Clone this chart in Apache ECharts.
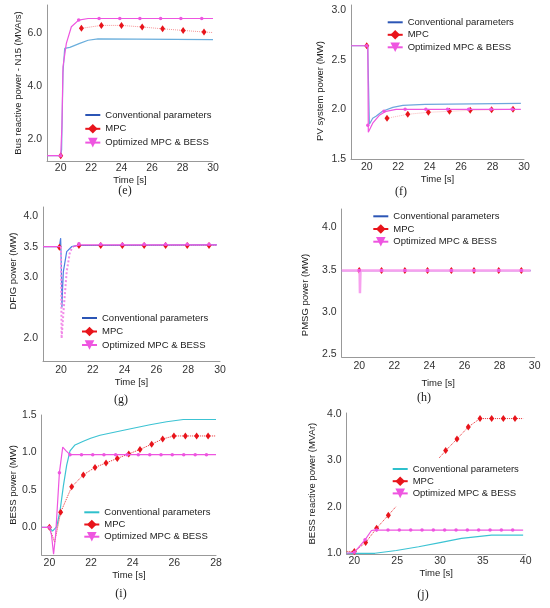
<!DOCTYPE html>
<html>
<head>
<meta charset="utf-8">
<script src="https://cdn.jsdelivr.net/npm/echarts@6/dist/echarts.min.js"></script>
<style>
html, body { margin: 0; padding: 0; background: #fff; }
#chart { width: 550px; height: 608px; }
</style>
</head>
<body>
<div id="chart"></div>
<script>
var CONV = 'Conventional parameters';
var MPC = 'MPC';
var OPT = 'Optimized MPC & BESS';

// (e) Bus reactive power - N15
var convE = [[19.1,1.37],[20.0,1.37],[20.06,1.6],[20.15,4.5],[20.26,5.42],[20.6,5.46],[21.25,5.61],[21.8,5.73],[22.45,5.78],[25.0,5.77],[30.0,5.75]];
var mpcLineE = [[20.0,1.37],[20.05,'-'],[21.36,6.18],[22.67,6.29],[23.99,6.29],[25.35,6.23],[26.69,6.16],[28.04,6.1],[29.41,6.04],[30.0,6.02]];
var mpcMarksE = [[20.0,1.37],[21.36,6.18],[22.67,6.29],[23.99,6.29],[25.35,6.23],[26.69,6.16],[28.04,6.1],[29.41,6.04]];
var optE = [[19.1,1.37],[20.0,1.37],[20.08,2.5],[20.15,4.73],[20.37,5.61],[20.7,6.24],[21.18,6.49],[21.8,6.55],[30.0,6.55]];
var optMarksE = [[20.0,1.37],[21.18,6.49],[22.52,6.55],[23.88,6.55],[25.2,6.55],[26.56,6.55],[27.89,6.55],[29.26,6.55]];

// (f) PV system power
var convF = [[19.0,2.64],[20.06,2.64],[20.17,1.85],[20.38,1.91],[20.59,1.93],[21.0,1.98],[21.66,2.02],[22.3,2.04],[23.7,2.05],[29.8,2.06]];
var mpcLineF = [[20.0,2.64],[20.05,'-'],[21.29,1.91],[22.61,1.95],[23.92,1.97],[25.26,1.98],[26.58,1.99],[27.94,1.995],[29.3,2.0]];
var mpcMarksF = [[20.0,2.64],[21.29,1.91],[22.61,1.95],[23.92,1.97],[25.26,1.98],[26.58,1.99],[27.94,1.995],[29.3,2.0]];
var optF = [[19.0,2.64],[20.07,2.64],[20.1,1.77],[20.38,1.86],[20.8,1.94],[21.23,1.98],[21.87,2.0],[29.8,2.0]];
var optMarksF = [[20.0,2.64],[20.07,1.84],[21.1,1.98],[22.44,2.0],[23.76,2.0],[25.14,2.0],[26.48,2.0],[27.9,2.0],[29.25,2.0]];

// (g) DFIG power
var convG = [[18.87,3.5],[19.9,3.5],[19.98,3.64],[20.02,3.2],[20.06,2.5],[20.1,2.8],[20.15,3.09],[20.36,3.42],[20.67,3.5],[21.0,3.52],[29.8,3.53]];
var mpcLineG = [[19.9,3.49],[20.0,'-'],[21.13,3.52],[22.5,3.52],[23.86,3.52],[25.23,3.52],[26.58,3.52],[27.94,3.52],[29.31,3.52],[29.8,3.52]];
var mpcMarksG = [[19.9,3.49],[21.13,3.52],[22.5,3.52],[23.86,3.52],[25.23,3.52],[26.58,3.52],[27.94,3.52],[29.31,3.52]];
var optG = [[18.87,3.5],[20.0,3.5],[20.4,'-'],[20.77,3.5],[21.2,3.53],[29.8,3.53]];
var optDipG = [[20.0,3.5],[20.04,1.99],[20.15,2.4],[20.36,3.09],[20.57,3.42],[20.77,3.5]];
var optMarksG = [[21.13,3.55],[22.5,3.54],[23.86,3.54],[25.23,3.54],[26.58,3.54],[27.94,3.54],[29.31,3.54]];

// (h) PMSG power
var convH = [[19.0,3.49],[29.77,3.49]];
var mpcLineH = [[20.0,3.49],[21.27,3.49],[22.6,3.49],[23.89,3.49],[25.25,3.49],[26.54,3.49],[27.95,3.49],[29.24,3.49]];
var mpcMarksH = [[20.0,3.49],[21.27,3.49],[22.6,3.49],[23.89,3.49],[25.25,3.49],[26.54,3.49],[27.95,3.49],[29.24,3.49]];
var optH = [[19.0,3.49],[20.02,3.49],[20.04,3.22],[20.07,3.49],[29.77,3.49]];
var optMarksH = [[20.0,3.49],[21.27,3.49],[22.6,3.49],[23.89,3.49],[25.25,3.49],[26.54,3.49],[27.95,3.49],[29.24,3.49]];

// (i) BESS power
var convI = [[19.63,0],[20.0,0],[20.15,-0.05],[20.35,0.01],[20.51,0.22],[20.67,0.55],[20.83,0.83],[20.99,1.02],[21.23,1.1],[21.63,1.15],[21.98,1.19],[22.43,1.23],[23.79,1.31],[24.83,1.37],[25.63,1.41],[26.43,1.44],[28.0,1.44]];
var mpcLineI = [[20.0,0],[20.25,-0.2],[20.54,0.2],[21.07,0.54],[21.63,0.7],[22.19,0.8],[22.72,0.86],[23.26,0.92],[23.81,0.98],[24.35,1.04],[24.91,1.11],[25.44,1.18],[25.98,1.22],[26.53,1.22],[27.07,1.22],[27.62,1.22],[28.0,1.22]];
var mpcMarksI = [[20.0,0],[20.54,0.2],[21.07,0.54],[21.63,0.7],[22.19,0.8],[22.72,0.86],[23.26,0.92],[23.81,0.98],[24.35,1.04],[24.91,1.11],[25.44,1.18],[25.98,1.22],[26.53,1.22],[27.07,1.22],[27.62,1.22]];
var optI = [[19.63,0],[20.0,0],[20.1,-0.1],[20.2,-0.36],[20.3,-0.1],[20.48,0.73],[20.64,1.07],[20.8,1.02],[20.99,0.97],[28.0,0.97]];
var optMarksI = [[20.0,0],[20.48,0.73],[20.99,0.97],[21.54,0.97],[22.08,0.97],[22.62,0.97],[23.18,0.97],[23.73,0.97],[24.27,0.97],[24.82,0.97],[25.36,0.97],[25.9,0.97],[26.45,0.97],[27.0,0.97],[27.54,0.97]];

// (j) BESS reactive power
var convJ = [[19.11,1.0],[21.25,1.0],[22.4,1.0],[24.9,1.06],[27.5,1.14],[30.0,1.23],[32.5,1.32],[36.0,1.39],[39.7,1.39]];
var mpcLineJ = [[19.11,1.04],[20.0,1.04],[21.32,1.23],[22.6,1.54],[23.97,1.82],[30.66,3.21],[31.98,3.46],[33.3,3.72],[34.67,3.9],[36.03,3.9],[37.39,3.9],[38.75,3.9],[39.7,3.9]];
var mpcMarksJ = [[20.0,1.04],[21.32,1.23],[22.6,1.54],[23.97,1.82],[30.66,3.21],[31.98,3.46],[33.3,3.72],[34.67,3.9],[36.03,3.9],[37.39,3.9],[38.75,3.9]];
var optJ = [[19.11,1.0],[20.0,1.02],[21.25,1.29],[22.0,1.49],[22.3,1.5],[39.7,1.5]];
var optMarksJ = [[20.0,1.02],[21.25,1.29],[22.6,1.5],[23.93,1.5],[25.25,1.5],[26.58,1.5],[27.9,1.5],[29.22,1.5],[30.54,1.5],[31.87,1.5],[33.19,1.5],[34.51,1.5],[35.84,1.5],[37.16,1.5],[38.48,1.5]];

var xTicksA = [20, 22, 24, 26, 28, 30];
var xTicksI = [20, 22, 24, 26, 28];
var xTicksJ = [20, 25, 30, 35, 40];

var RED = '#e8141b';
var MAG = '#ee55e0';
var FONT = 'Liberation Sans';

var panels = [
	{
		caption: '(e)', capX: 125, capY: 191,
		grid: { left: 47, top: 5, width: 166, height: 156 },
		xMin: 19.1, xMax: 30, xTicks: xTicksA, xNameGap: 12, xLabelMargin: 2,
		yMin: 1.17, yMax: 7.06, yTicks: [2, 4, 6], yName: 'Bus reactive power - N15 (MVArs)', yNameGap: 24, yNamePad: [0, 0, 0, 0],
		conv: convE, convColor: '#6aaedc', legendConv: '#2b55b5',
		mpcLine: mpcLineE, mpcMarks: mpcMarksE, mpcOpacity: 0.45,
		opt: optE, optMarks: optMarksE,
		legend: { left: 84.3, top: 110, itemGap: 3.8 }
	},
	{
		caption: '(f)', capX: 401, capY: 192,
		grid: { left: 351, top: 5, width: 173, height: 154 },
		xMin: 19, xMax: 30, xTicks: xTicksA, xNameGap: 14, xLabelMargin: 3,
		yMin: 1.5, yMax: 3.05, yTicks: [1.5, 2, 2.5, 3], yName: 'PV system power (MW)', yNameGap: 26, yNamePad: [0, 18, 0, 0],
		conv: convF, convColor: '#6ea6dc', legendConv: '#2b55b5',
		mpcLine: mpcLineF, mpcMarks: mpcMarksF, mpcOpacity: 0.3,
		opt: optF, optMarks: optMarksF,
		legend: { left: 386.7, top: 17.3, itemGap: 2.5 }
	},
	{
		caption: '(g)', capX: 121, capY: 400,
		grid: { left: 43, top: 207, width: 177, height: 154 },
		xMin: 18.87, xMax: 30, xTicks: xTicksA, xNameGap: 16, xLabelMargin: 3.5,
		yMin: 1.617, yMax: 4.154, yTicks: [2, 3, 3.5, 4], yName: 'DFIG power (MW)', yNameGap: 25, yNamePad: [0, 0, 0, 26],
		conv: convG, convColor: '#4d7fe0', legendConv: '#2b55b5',
		mpcLine: mpcLineG, mpcMarks: mpcMarksG, mpcOpacity: 0.3,
		opt: optG, optDip: optDipG, optMarks: optMarksG,
		legend: { left: 81, top: 313, itemGap: 3.5 }
	},
	{
		caption: '(h)', capX: 424, capY: 398,
		grid: { left: 341.7, top: 209, width: 193, height: 148 },
		xMin: 19, xMax: 30, xTicks: xTicksA, xNameGap: 21, xLabelMargin: 4,
		yMin: 2.465, yMax: 4.22, yTicks: [2.5, 3, 3.5, 4], yName: 'PMSG power (MW)', yNameGap: 31.7, yNamePad: [0, 24, 0, 0],
		conv: convH, convColor: '#3b5fc8', legendConv: '#2b55b5',
		mpcLine: mpcLineH, mpcMarks: mpcMarksH, mpcOpacity: 0.3,
		opt: optH, optMarks: optMarksH, optColor: '#f7a0ee', optWidth: 2.5,
		legend: { left: 372.3, top: 211.3, itemGap: 2.7 }
	},
	{
		caption: '(i)', capX: 121, capY: 594,
		grid: { left: 41.7, top: 415, width: 174.3, height: 140 },
		xMin: 19.63, xMax: 28, xTicks: xTicksI, xNameGap: 13, xLabelMargin: 3,
		yMin: -0.37, yMax: 1.5, yTicks: [0, 0.5, 1, 1.5], yName: 'BESS power (MW)', yNameGap: 23, yNamePad: [0, 0, 0, 0],
		conv: convI, convColor: '#3cc3d3', legendConv: '#2ec0cc',
		mpcLine: mpcLineI, mpcMarks: mpcMarksI, mpcOpacity: 0.9,
		opt: optI, optMarks: optMarksI,
		legend: { left: 83.3, top: 507.3, itemGap: 2.2 }
	},
	{
		caption: '(j)', capX: 423, capY: 595,
		grid: { left: 346.7, top: 413, width: 179, height: 141.3 },
		xMin: 19.11, xMax: 40, xTicks: xTicksJ, xNameGap: 14, xLabelMargin: 1.5,
		yMin: 0.978, yMax: 4.02, yTicks: [1, 2, 3, 4], yName: 'BESS reactive power (MVAr)', yNameGap: 29, yNamePad: [0, 0, 0, 0],
		conv: convJ, convColor: '#3cc3d3', legendConv: '#2ec0cc',
		mpcLine: mpcLineJ, mpcMarks: mpcMarksJ, mpcOpacity: 0.9,
		opt: optJ, optMarks: optMarksJ,
		legend: { left: 389.7, top: 458, itemGap: 2.2, padding: [6, 8, 8, 2], bg: '#fff' }
	}
];

var option = {
	animation: false,
	backgroundColor: '#fff',
	textStyle: { fontFamily: FONT },
	grid: [], xAxis: [], yAxis: [], series: [], legend: [], graphic: []
};

function addPanel(p, i) {
	option.grid.push(p.grid);
	option.xAxis.push({
		type: 'value', gridIndex: i, min: p.xMin, max: p.xMax,
		name: 'Time [s]', nameLocation: 'middle', nameGap: p.xNameGap,
		nameTextStyle: { fontSize: 9.5, color: '#222' },
		axisLine: { onZero: false, lineStyle: { color: '#999', width: 1 } },
		axisTick: { show: false },
		splitLine: { show: false },
		axisLabel: { customValues: p.xTicks, fontSize: 10.5, color: '#333', margin: p.xLabelMargin }
	});
	option.yAxis.push({
		type: 'value', gridIndex: i, min: p.yMin, max: p.yMax,
		name: p.yName, nameLocation: 'middle', nameGap: p.yNameGap,
		nameTextStyle: { fontSize: 9.5, color: '#222', padding: p.yNamePad },
		axisLine: { show: true, onZero: false, lineStyle: { color: '#999', width: 1 } },
		axisTick: { show: false },
		splitLine: { show: false },
		axisLabel: {
			customValues: p.yTicks, fontSize: 10.5, color: '#333', margin: 5,
			formatter: function (v) { return v.toFixed(1); }
		}
	});

	var optColor = p.optColor || MAG;
	option.series.push({
		name: CONV, type: 'line', xAxisIndex: i, yAxisIndex: i, data: p.conv,
		symbol: 'none', lineStyle: { color: p.convColor, width: 1.2 }, itemStyle: { color: p.convColor }, z: 2
	});
	option.series.push({
		name: MPC, type: 'line', xAxisIndex: i, yAxisIndex: i, data: p.mpcLine,
		symbol: 'diamond', showSymbol: false, connectNulls: false,
		lineStyle: { color: RED, width: 1, type: 'dotted', opacity: p.mpcOpacity }, itemStyle: { color: RED }, z: 3
	});
	option.series.push({
		name: MPC, type: 'scatter', xAxisIndex: i, yAxisIndex: i, data: p.mpcMarks,
		symbol: 'diamond', symbolSize: [5, 7], itemStyle: { color: RED, opacity: 1 }, z: 4
	});
	option.series.push({
		name: OPT, type: 'line', xAxisIndex: i, yAxisIndex: i, data: p.opt,
		symbol: 'triangle', symbolRotate: 180, showSymbol: false, connectNulls: false,
		lineStyle: { color: optColor, width: p.optWidth || 1.2 }, itemStyle: { color: MAG }, z: 5
	});
	if (p.optDip) {
		option.series.push({
			name: OPT, type: 'line', xAxisIndex: i, yAxisIndex: i, data: p.optDip,
			symbol: 'none', lineStyle: { color: '#f28ce8', width: 2, type: 'dotted' }, z: 5
		});
	}
	option.series.push({
		name: OPT, type: 'scatter', xAxisIndex: i, yAxisIndex: i, data: p.optMarks,
		symbol: 'circle', symbolSize: 3.5, itemStyle: { color: MAG, opacity: 1 }, z: 6
	});

	option.legend.push({
		orient: 'vertical', left: p.legend.left, top: p.legend.top,
		itemGap: p.legend.itemGap, itemWidth: 15, itemHeight: 12,
		padding: p.legend.padding || 0,
		backgroundColor: p.legend.bg || 'transparent',
		selectedMode: false,
		textStyle: { fontSize: 9.5, color: '#222', fontFamily: FONT },
		data: [
			{ name: CONV, itemStyle: { opacity: 0 }, lineStyle: { color: p.legendConv, width: 2, type: 'solid', opacity: 1 } },
			{ name: MPC, itemStyle: { color: RED, opacity: 1 }, lineStyle: { color: RED, width: 2, type: 'solid', opacity: 1 } },
			{ name: OPT, symbolRotate: 180, itemStyle: { color: MAG, opacity: 1 }, lineStyle: { color: MAG, width: 2, type: 'solid', opacity: 1 } }
		]
	});

	option.graphic.push({
		type: 'text', x: p.capX, y: p.capY,
		style: { text: p.caption, align: 'center', verticalAlign: 'middle', font: '12px "Liberation Serif"', fill: '#222' }
	});
}

for (var i = 0; i < panels.length; i++) {
	addPanel(panels[i], i);
}

var myChart = echarts.init(document.getElementById('chart'));
myChart.setOption(option);
</script>
</body>
</html>
